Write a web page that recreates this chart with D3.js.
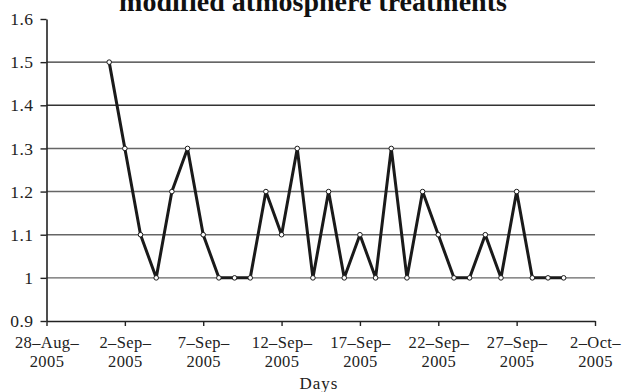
<!DOCTYPE html>
<html>
<head>
<meta charset="utf-8">
<script src="https://cdn.jsdelivr.net/npm/d3@7"></script>
<style>
  body { margin: 0; background: #fff; }
  svg { display: block; }
  text { font-family: "Liberation Serif", "Times New Roman", serif; fill: #222; }
</style>
</head>
<body>
<div id="container"></div>
<script>
// chart values
const days = ["2005-09-01","2005-09-02","2005-09-03","2005-09-04","2005-09-05","2005-09-06",
  "2005-09-07","2005-09-08","2005-09-09","2005-09-10","2005-09-11","2005-09-12","2005-09-13",
  "2005-09-14","2005-09-15","2005-09-16","2005-09-17","2005-09-18","2005-09-19","2005-09-20",
  "2005-09-21","2005-09-22","2005-09-23","2005-09-24","2005-09-25","2005-09-26","2005-09-27",
  "2005-09-28","2005-09-29","2005-09-30"];
const values = [1.5,1.3,1.1,1.0,1.2,1.3,1.1,1.0,1.0,1.0,1.2,1.1,1.3,1.0,1.2,1.0,1.1,1.0,1.3,1.0,
  1.2,1.1,1.0,1.0,1.1,1.0,1.2,1.0,1.0,1.0];
const xTicks = ["2005-08-28","2005-09-02","2005-09-07","2005-09-12","2005-09-17","2005-09-22","2005-09-27","2005-10-02"];
const yTicks = [0.9,1.0,1.1,1.2,1.3,1.4,1.5,1.6];
const gridValues = [1.0,1.1,1.2,1.3,1.4,1.5];
const title = "modified atmosphere treatments";
const xTitle = "Days";

const width = 629, height = 392;
const margin = { top: 19, right: 34, bottom: 71, left: 46.5 };

const parse = d3.utcParse("%Y-%m-%d");
const data = days.map((d, i) => ({ date: parse(d), value: values[i] }));

const svg = d3.select("#container").append("svg")
  .attr("width", width).attr("height", height);

const xScale = d3.scaleUtc()
  .domain([parse(xTicks[0]), parse(xTicks[xTicks.length - 1])])
  .range([margin.left, width - margin.right]);
const yScale = d3.scaleLinear()
  .domain([0.9, 1.6])
  .range([height - margin.bottom, margin.top]);

// title (cut off at top in the original)
svg.append("text")
  .attr("x", 313).attr("y", 11)
  .attr("text-anchor", "middle")
  .style("font-size", "28px").style("font-weight", "bold").style("fill", "#111")
  .text(title);

// gridlines
svg.selectAll("line.grid")
  .data(gridValues)
  .join("line")
  .attr("class", "grid")
  .attr("x1", margin.left).attr("x2", width - margin.right)
  .attr("y1", d => yScale(d)).attr("y2", d => yScale(d))
  .attr("stroke", d => d >= 1.4 ? "#333" : "#666")
  .attr("stroke-width", 1.4);

// y axis
const fmtY = d => d === 1 ? "1" : d3.format(".1f")(d);
const yAxis = svg.append("g")
  .attr("transform", `translate(${margin.left},0)`)
  .call(d3.axisLeft(yScale).tickValues(yTicks).tickFormat(fmtY).tickSize(6).tickSizeOuter(0));
yAxis.select(".domain").attr("stroke", "#222").attr("stroke-width", 1.6);
yAxis.selectAll(".tick line").attr("stroke", "#222").attr("stroke-width", 1.4);
yAxis.selectAll(".tick text")
  .attr("x", -13)
  .style("font-size", "17.5px").style("font-family", "Liberation Serif, serif")
  .style("letter-spacing", "0.5px").attr("fill", "#222");

// x axis
const xAxis = svg.append("g")
  .attr("transform", `translate(0,${yScale(0.9)})`)
  .call(d3.axisBottom(xScale).tickValues(xTicks.map(parse)).tickFormat("").tickSize(5).tickSizeOuter(0));
xAxis.select(".domain").attr("stroke", "#222").attr("stroke-width", 1.6);
xAxis.selectAll(".tick line").attr("stroke", "#222").attr("stroke-width", 1.4);

// two-line date labels
const fmtTop = d3.utcFormat("%-d–%b–");
const fmtYear = d3.utcFormat("%Y");
const xLabels = xAxis.selectAll(".tick")
  .append("text")
  .attr("text-anchor", "middle")
  .style("font-size", "16.5px").style("font-family", "Liberation Serif, serif")
  .style("letter-spacing", "0.4px")
  .attr("fill", "#222");
xLabels.append("tspan").attr("x", 0).attr("y", 27).text(d => fmtTop(d));
xLabels.append("tspan").attr("x", 0).attr("y", 45.5).text(d => fmtYear(d));

svg.append("text")
  .attr("x", 319).attr("y", 389)
  .attr("text-anchor", "middle")
  .style("font-size", "17px").style("letter-spacing", "1px")
  .text(xTitle);

// series line
const line = d3.line().x(d => xScale(d.date)).y(d => yScale(d.value));
svg.append("path")
  .datum(data)
  .attr("d", line)
  .attr("fill", "none")
  .attr("stroke", "#1a1a1a")
  .attr("stroke-width", 3)
  .attr("stroke-linejoin", "round");

svg.selectAll("circle")
  .data(data)
  .join("circle")
  .attr("cx", d => xScale(d.date))
  .attr("cy", d => yScale(d.value))
  .attr("r", 2.3)
  .attr("fill", "#fff")
  .attr("stroke", "#1a1a1a")
  .attr("stroke-width", 1);
</script>
</body>
</html>
